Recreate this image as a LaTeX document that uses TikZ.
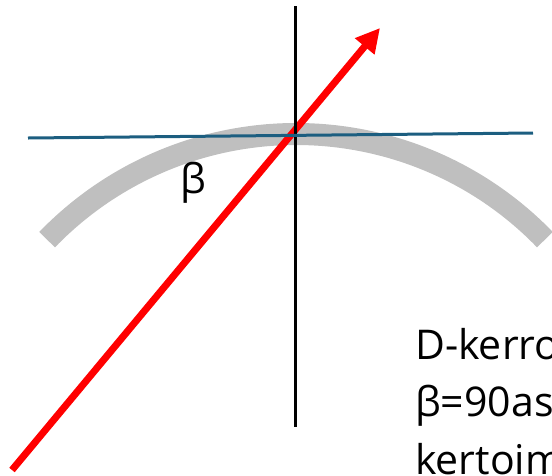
\documentclass[tikz,border=0pt]{standalone}
\usepackage{fontspec}
\setmainfont{Open Sans}
\usetikzlibrary{arrows.meta}
\definecolor{arcgray}{RGB}{191,191,191}
\definecolor{tealblue}{RGB}{28,94,128}
\definecolor{pred}{RGB}{255,0,0}
\tikzset{
  lens/.style={draw=arcgray,line width=22pt},
  surface/.style={draw=tealblue,line width=3pt},
  normalline/.style={draw=black,line width=3pt},
  ray/.style={draw=pred,line width=7pt,-{Triangle[length=24pt,width=24pt]}},
  lbl/.style={inner sep=0pt,font=\fontsize{41}{57.5}\selectfont}
}
\begin{document}
\begin{tikzpicture}[x=1pt,y=-1pt]
\useasboundingbox (0,0) rectangle (552,475);
\coordinate (c) at (296,480);
\coordinate (rs) at (12,470);
\coordinate (rt) at (380,28);
\coordinate (nt) at (295.5,6);
\coordinate (nb) at (295.5,427);
\coordinate (sl) at (28,138);
\coordinate (sr) at (533,133);
\draw[lens] (c) ++(-136:346) arc[start angle=-136,end angle=-44,radius=346];
\draw[ray] (rs) -- (rt);
\draw[normalline] (nt) -- (nb);
\draw[surface] (sl) -- (sr);
\node[lbl,anchor=base west] (beta) at (180,193) {β};
\node[lbl,anchor=base west,align=left] (txt) at (415,474) {D-kerroin\\β=90astetta\\kertoimella};
\end{tikzpicture}
\end{document}
